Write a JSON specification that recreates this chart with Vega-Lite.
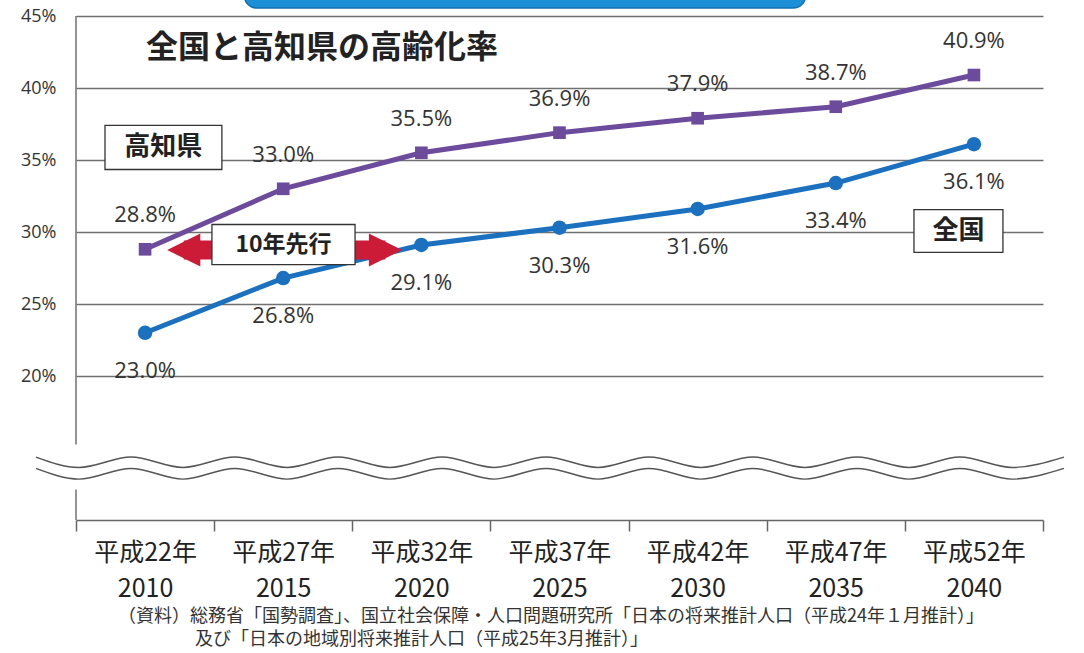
{
  "$schema": "https://vega.github.io/schema/vega-lite/v6.json",
  "width": 967,
  "height": 504,
  "autosize": {"type": "none"},
  "padding": {"left": 76, "top": 16, "right": 41, "bottom": 133},
  "background": "#ffffff",
  "config": {"view": {"stroke": null}, "font": "Noto Sans CJK JP"},
  "datasets": {
    "series": [
      {"year": 2010, "value": 28.8, "region": "高知県"},
      {"year": 2015, "value": 33.0, "region": "高知県"},
      {"year": 2020, "value": 35.5, "region": "高知県"},
      {"year": 2025, "value": 36.9, "region": "高知県"},
      {"year": 2030, "value": 37.9, "region": "高知県"},
      {"year": 2035, "value": 38.7, "region": "高知県"},
      {"year": 2040, "value": 40.9, "region": "高知県"},
      {"year": 2010, "value": 23.0, "region": "全国"},
      {"year": 2015, "value": 26.8, "region": "全国"},
      {"year": 2020, "value": 29.1, "region": "全国"},
      {"year": 2025, "value": 30.3, "region": "全国"},
      {"year": 2030, "value": 31.6, "region": "全国"},
      {"year": 2035, "value": 33.4, "region": "全国"},
      {"year": 2040, "value": 36.1, "region": "全国"}
    ],
    "banner": [{"year": 2013.6, "x2": 2033.9, "value": 45.55, "y2": 48.5}],
    "yaxisline": [
      {"year": 2007.5, "value": 45, "y2": 15.24},
      {"year": 2007.5, "value": 12.12, "y2": 10}
    ],
    "wave": [
      {"year": 2006.05, "value": 14.37, "lo": 13.58},
      {"year": 2007.61, "value": 13.65, "lo": 12.84},
      {"year": 2009.49, "value": 14.37, "lo": 13.58},
      {"year": 2011.37, "value": 13.65, "lo": 12.84},
      {"year": 2013.25, "value": 14.37, "lo": 13.58},
      {"year": 2015.14, "value": 13.65, "lo": 12.84},
      {"year": 2016.98, "value": 14.37, "lo": 13.58},
      {"year": 2018.86, "value": 13.65, "lo": 12.84},
      {"year": 2020.75, "value": 14.37, "lo": 13.58},
      {"year": 2022.63, "value": 13.65, "lo": 12.84},
      {"year": 2024.51, "value": 14.37, "lo": 13.58},
      {"year": 2026.39, "value": 13.65, "lo": 12.84},
      {"year": 2028.24, "value": 14.37, "lo": 13.58},
      {"year": 2030.12, "value": 13.65, "lo": 12.84},
      {"year": 2032.00, "value": 14.37, "lo": 13.58},
      {"year": 2033.88, "value": 13.65, "lo": 12.84},
      {"year": 2035.77, "value": 14.37, "lo": 13.58},
      {"year": 2037.65, "value": 13.65, "lo": 12.84},
      {"year": 2039.49, "value": 14.37, "lo": 13.58},
      {"year": 2041.38, "value": 13.65, "lo": 12.84},
      {"year": 2043.26, "value": 14.37, "lo": 13.58}
    ],
    "arrow": [{"year": 2011.4, "x2": 2018.7, "value": 28.75}],
    "boxes": [
      {"name": "高知県", "year": 2008.55, "x2": 2012.78, "value": 37.4, "y2": 34.34, "tx": 2010.66, "ty": 35.87},
      {"name": "全国", "year": 2037.83, "x2": 2041.05, "value": 31.56, "y2": 28.58, "tx": 2039.44, "ty": 30.07},
      {"name": "10年先行", "year": 2012.42, "x2": 2017.6, "value": 30.52, "y2": 27.74, "tx": 2015.01, "ty": 29.13}
    ],
    "heading": [{"year": 2016.4, "value": 42.8, "t": "全国と高知県の高齢化率"}],
    "source": [
      {"year": 2009.02, "value": 3.264, "t": "（資料）総務省「国勢調査」、国立社会保障・人口問題研究所「日本の将来推計人口（平成24年１月推計）」"},
      {"year": 2011.81, "value": 1.667, "t": "及び「日本の地域別将来推計人口（平成25年3月推計）」"}
    ]
  },
  "encoding": {
    "x": {
      "field": "year", "type": "quantitative",
      "scale": {"domain": [2007.5, 2042.5], "nice": false, "zero": false},
      "axis": {
        "values": [2007.5, 2012.5, 2017.5, 2022.5, 2027.5, 2032.5, 2037.5, 2042.5],
        "labelExpr": "datum.value > 2040 ? '' : ['平成' + (datum.value + 2.5 - 1988) + '年', '' + (datum.value + 2.5)]",
        "labelOffset": 69,
        "labelAngle": 0,
        "grid": false,
        "domainColor": "#666666",
        "domainWidth": 1.5,
        "tickColor": "#666666",
        "tickSize": 11,
        "tickWidth": 1.5,
        "labelFont": "Noto Sans CJK JP",
        "labelFontSize": 25,
        "labelColor": "#222222",
        "labelLineHeight": 36,
        "labelPadding": 9,
        "labelFlush": false,
        "labelOverlap": false,
        "labelBound": false,
        "title": null
      }
    },
    "y": {
      "field": "value", "type": "quantitative",
      "scale": {"domain": [10, 45], "nice": false, "zero": false},
      "axis": {
        "values": [20, 25, 30, 35, 40, 45],
        "labelExpr": "datum.value + '%'",
        "domain": false,
        "ticks": false,
        "grid": true,
        "gridColor": "#707070",
        "gridWidth": 1.3,
        "labelFont": "Open Sans",
        "labelFontSize": 18,
        "labelColor": "#333333",
        "labelPadding": 20,
        "title": null
      }
    }
  },
  "layer": [
    {
      "data": {"name": "banner"},
      "mark": {"type": "rect", "fill": "#1d8fd6", "stroke": "#1570b0", "strokeWidth": 1.5, "cornerRadius": 12},
      "encoding": {"x2": {"field": "x2"}, "y2": {"field": "y2"}}
    },
    {
      "data": {"name": "yaxisline"},
      "mark": {"type": "rule", "color": "#707070", "strokeWidth": 1.5},
      "encoding": {"y2": {"field": "y2"}}
    },
    {
      "data": {"name": "wave"},
      "mark": {"type": "area", "fill": "#ffffff", "interpolate": "monotone"},
      "encoding": {"y2": {"field": "lo"}}
    },
    {
      "data": {"name": "wave"},
      "mark": {"type": "line", "color": "#555555", "strokeWidth": 1.4, "interpolate": "monotone"},
      "encoding": {}
    },
    {
      "data": {"name": "wave"},
      "mark": {"type": "line", "color": "#555555", "strokeWidth": 1.4, "interpolate": "monotone"},
      "encoding": {"y": {"field": "lo", "type": "quantitative"}}
    },
    {
      "data": {"name": "series"},
      "mark": {"type": "line", "strokeWidth": 5},
      "encoding": {
        "color": {"field": "region", "type": "nominal", "scale": {"domain": ["高知県", "全国"], "range": ["#6d4b9c", "#1b70bf"]}, "legend": null}
      }
    },
    {
      "data": {"name": "series"},
      "mark": {"type": "point", "filled": true, "opacity": 1},
      "encoding": {
        "color": {"field": "region", "type": "nominal", "scale": {"domain": ["高知県", "全国"], "range": ["#6d4b9c", "#1b70bf"]}, "legend": null},
        "shape": {"field": "region", "type": "nominal", "scale": {"domain": ["高知県", "全国"], "range": ["square", "circle"]}, "legend": null},
        "size": {"field": "region", "type": "nominal", "scale": {"domain": ["高知県", "全国"], "range": [160, 210]}, "legend": null}
      }
    },
    {
      "data": {"name": "series"},
      "transform": [
        {"filter": "datum.region === '高知県'"},
        {"calculate": "format(datum.value, '.1f') + '%'", "as": "lab"}
      ],
      "mark": {"type": "text", "font": "Open Sans", "fontSize": 22, "color": "#333333", "dy": -34, "baseline": "middle"},
      "encoding": {"text": {"field": "lab"}}
    },
    {
      "data": {"name": "series"},
      "transform": [
        {"filter": "datum.region === '全国'"},
        {"calculate": "format(datum.value, '.1f') + '%'", "as": "lab"}
      ],
      "mark": {"type": "text", "font": "Open Sans", "fontSize": 22, "color": "#333333", "dy": 38, "baseline": "middle"},
      "encoding": {"text": {"field": "lab"}}
    },
    {
      "data": {"name": "arrow"},
      "mark": {"type": "rule", "color": "#cc1b36", "strokeWidth": 19},
      "encoding": {"x2": {"field": "x2"}}
    },
    {
      "data": {"name": "arrow"},
      "mark": {"type": "point", "filled": true, "opacity": 1, "color": "#cc1b36", "size": 1100, "shape": "M -1 0 L 1 -1 L 1 1 Z"},
      "encoding": {}
    },
    {
      "data": {"name": "arrow"},
      "mark": {"type": "point", "filled": true, "opacity": 1, "color": "#cc1b36", "size": 1100, "shape": "M 1 0 L -1 -1 L -1 1 Z"},
      "encoding": {"x": {"field": "x2", "type": "quantitative"}}
    },
    {
      "data": {"name": "boxes"},
      "mark": {"type": "rect", "fill": "#ffffff", "stroke": "#333333", "strokeWidth": 1.3},
      "encoding": {"x2": {"field": "x2"}, "y2": {"field": "y2"}}
    },
    {
      "data": {"name": "boxes"},
      "transform": [{"filter": "datum.name !== '10年先行'"}],
      "mark": {"type": "text", "font": "Noto Sans CJK JP", "fontWeight": "bold", "fontSize": 26, "color": "#222222", "baseline": "middle"},
      "encoding": {
        "x": {"field": "tx", "type": "quantitative"},
        "y": {"field": "ty", "type": "quantitative"},
        "text": {"field": "name"}
      }
    },
    {
      "data": {"name": "boxes"},
      "transform": [{"filter": "datum.name === '10年先行'"}],
      "mark": {"type": "text", "font": "Noto Sans CJK JP", "fontWeight": "bold", "fontSize": 23, "color": "#222222", "baseline": "middle"},
      "encoding": {
        "x": {"field": "tx", "type": "quantitative"},
        "y": {"field": "ty", "type": "quantitative"},
        "text": {"field": "name"}
      }
    },
    {
      "data": {"name": "heading"},
      "mark": {"type": "text", "font": "Noto Sans CJK JP", "fontWeight": "bold", "fontSize": 32, "color": "#222222", "baseline": "middle"},
      "encoding": {"text": {"field": "t"}}
    },
    {
      "data": {"name": "source"},
      "mark": {"type": "text", "font": "Noto Sans CJK JP", "fontSize": 18, "color": "#333333", "baseline": "middle", "align": "left"},
      "encoding": {"text": {"field": "t"}}
    }
  ]
}
